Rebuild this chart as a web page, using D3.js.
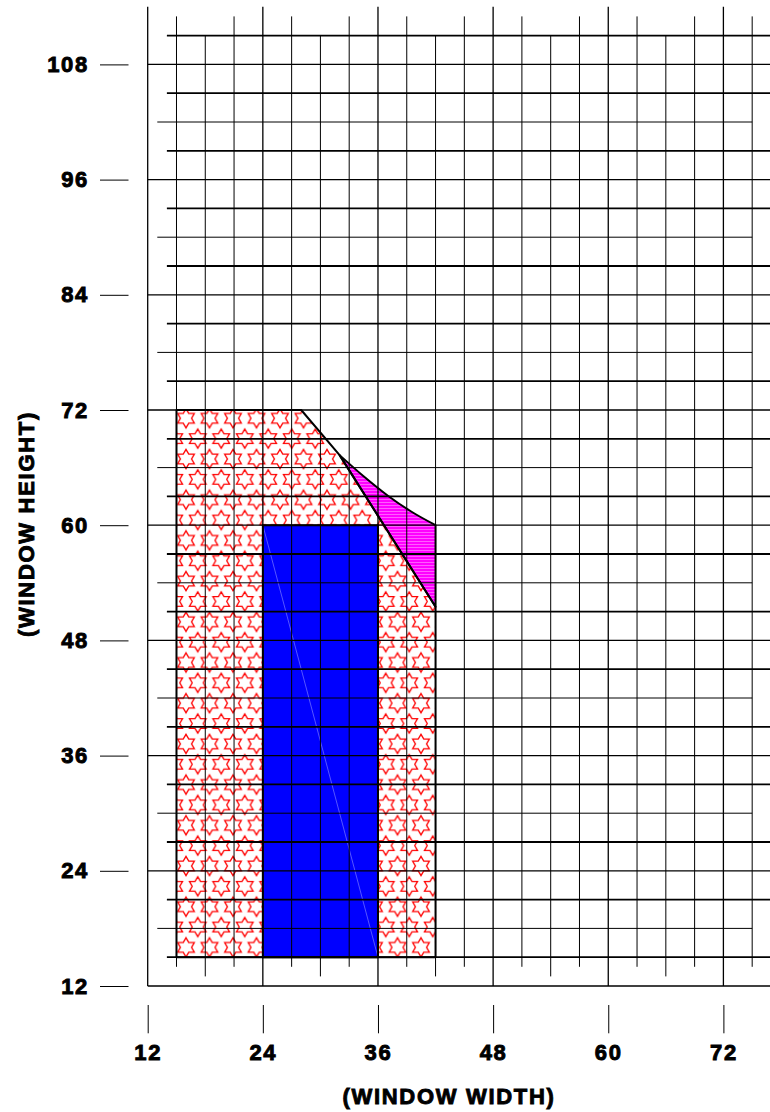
<!DOCTYPE html>
<html>
<head>
<meta charset="utf-8">
<script src="https://cdn.jsdelivr.net/npm/d3@7"></script>
<style>
  body { margin: 0; background: #fff; }
  svg { display: block; }
  .lbl { font-family: "Liberation Sans", Arial, sans-serif; font-weight: bold; font-size: 22px;
         fill: #000; stroke: #000; stroke-width: 0.9px; letter-spacing: 1.7px; }
</style>
</head>
<body>
<script>
// data (window width / window height)
const xTicks = [12, 24, 36, 48, 60, 72];
const yTicks = [12, 24, 36, 48, 60, 72, 84, 96, 108];
// red star region outline
const starRegion = [[15, 15], [15, 72], [28, 72], [32, 67.3], [42, 51.5], [42, 15]];
// magenta wedge: upper curve, then lower corner
const pinkTop = [[32, 67.3], [34.5, 65.1], [37, 63.1], [39.5, 61.4], [42, 60]];
const pinkCorner = [42, 51.5];
// blue block: [x0, x1, y0, y1]
const blueBlock = [24, 36, 15, 60];

const W = 770, H = 1112;
const x = d3.scaleLinear().domain([12, 78]).range([147.7, 147.7 + 66 * 9.595]);
const y = d3.scaleLinear().domain([12, 114]).range([986, 986 - 102 * 9.6]);

const svg = d3.select("body").append("svg").attr("width", W).attr("height", H);
const defs = svg.append("defs");

// star pattern
const sw = 23.5, sh = 2 * 20.35;
const star = (cx, cy, R) => {
  const pts = [];
  for (let i = 0; i < 12; i++) {
    const r = i % 2 === 0 ? R : R / Math.sqrt(3);
    const a = -Math.PI / 2 + i * Math.PI / 6;
    pts.push([cx + r * Math.cos(a), cy + r * Math.sin(a)]);
  }
  return d3.line()(pts) + "Z";
};
const pat = defs.append("pattern").attr("id", "stars")
  .attr("patternUnits", "userSpaceOnUse")
  .attr("x", 186).attr("y", 418.3)
  .attr("width", sw).attr("height", sh);
pat.append("rect").attr("width", sw).attr("height", sh).attr("fill", "#fff");
[[0, 0], [sw, 0], [0, sh], [sw, sh], [sw / 2, sh / 2]].forEach(([cx, cy]) => {
  pat.append("path").attr("d", star(cx, cy, 9.6))
    .attr("fill", "none").attr("stroke", "#ff0000").attr("stroke-width", 1.3);
});

// magenta stripes
const mp = defs.append("pattern").attr("id", "pinkStripe")
  .attr("patternUnits", "userSpaceOnUse").attr("width", 6).attr("height", 3);
mp.append("rect").attr("width", 6).attr("height", 3).attr("fill", "#ff00ff");
mp.append("rect").attr("y", 1).attr("width", 6).attr("height", 1).attr("fill", "#ff5cff");

const line = d3.line().x(d => x(d[0])).y(d => y(d[1]));
const curve = d3.line().x(d => x(d[0])).y(d => y(d[1])).curve(d3.curveMonotoneX);
const pinkPath = curve(pinkTop) + "L" + x(pinkCorner[0]) + "," + y(pinkCorner[1]) + "Z";

// fills
svg.append("path").attr("d", line(starRegion) + "Z").attr("fill", "url(#stars)");
svg.append("path").attr("d", pinkPath).attr("fill", "url(#pinkStripe)");
svg.append("rect")
  .attr("x", x(blueBlock[0])).attr("y", y(blueBlock[3]))
  .attr("width", x(blueBlock[1]) - x(blueBlock[0]))
  .attr("height", y(blueBlock[2]) - y(blueBlock[3]))
  .attr("fill", "#0000ff");
svg.append("line")
  .attr("x1", x(blueBlock[0])).attr("y1", y(blueBlock[3]))
  .attr("x2", x(blueBlock[1])).attr("y2", y(blueBlock[2]))
  .attr("stroke", "#7a7aff").attr("stroke-width", 0.7);

// grid: length depends on position in 12-unit cycle
const grid = svg.append("g").attr("stroke", "#000");
const vLines = [12].concat(d3.range(15, 76, 3));
const hLines = [12].concat(d3.range(15, 112, 3));
const vSpan = v => v % 12 === 0 ? [12, 114] : v % 12 === 6 ? [13, 111] : [14, 113];
const hSpan = v => v % 12 === 0 ? [12, 78] : v % 12 === 6 ? [13, 75] : [14, 77];
grid.selectAll("line.v").data(vLines).enter().append("line")
  .attr("x1", d => x(d)).attr("x2", d => x(d))
  .attr("y1", d => y(vSpan(d)[0])).attr("y2", d => y(vSpan(d)[1]))
  .attr("stroke-width", d => d % 12 === 0 ? 1.3 : 1);
grid.selectAll("line.h").data(hLines).enter().append("line")
  .attr("y1", d => y(d)).attr("y2", d => y(d))
  .attr("x1", d => x(hSpan(d)[0])).attr("x2", d => x(hSpan(d)[1]))
  .attr("stroke-width", d => d % 12 === 0 ? 1.3 : d % 6 === 3 ? 1.8 : 1);

// outlines
const outl = svg.append("g").attr("fill", "none").attr("stroke", "#000")
  .attr("stroke-width", 2).attr("stroke-linejoin", "round");
outl.append("path").attr("d", line(starRegion) + "Z");
outl.append("path").attr("d", pinkPath);
outl.append("rect")
  .attr("x", x(blueBlock[0])).attr("y", y(blueBlock[3]))
  .attr("width", x(blueBlock[1]) - x(blueBlock[0]))
  .attr("height", y(blueBlock[2]) - y(blueBlock[3]));

// axes
const yAxis = svg.append("g").attr("transform", "translate(128.5,0)")
  .call(d3.axisLeft(y).tickValues(yTicks).tickSize(28.5).tickPadding(11).tickFormat(d3.format("d")));
const xAxis = svg.append("g").attr("transform", "translate(0,1005)")
  .call(d3.axisBottom(x).tickValues(xTicks).tickSize(28.3).tickPadding(11).tickFormat(d3.format("d")));
[yAxis, xAxis].forEach(a => {
  a.select(".domain").remove();
  a.selectAll(".tick line").attr("stroke", "#000").attr("stroke-width", 1);
  a.selectAll(".tick text").attr("class", "lbl").attr("font-size", null).attr("font-family", null);
});

// titles
svg.append("text").attr("class", "lbl").attr("x", 449).attr("y", 1104)
  .attr("text-anchor", "middle").text("(WINDOW WIDTH)");
svg.append("text").attr("class", "lbl")
  .attr("transform", "translate(34,524) rotate(-90)")
  .attr("text-anchor", "middle").text("(WINDOW HEIGHT)");
</script>
</body>
</html>
